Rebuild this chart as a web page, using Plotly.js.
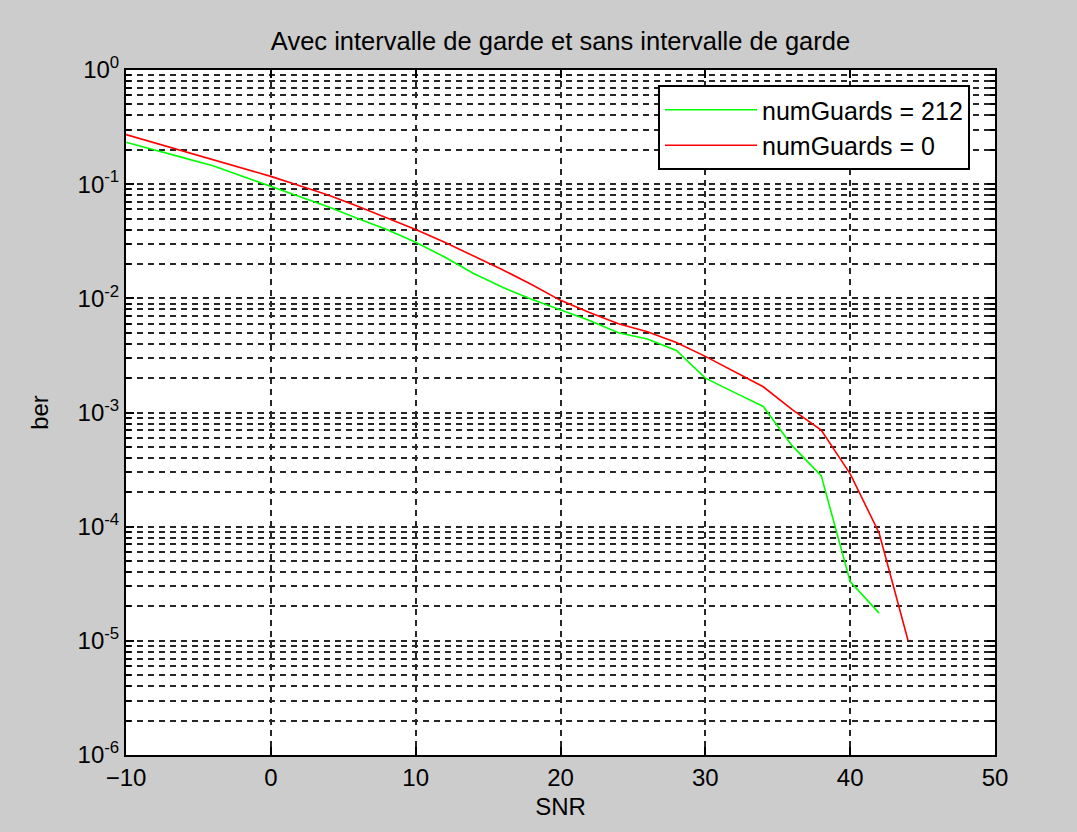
<!DOCTYPE html>
<html>
<head>
<meta charset="utf-8">
<script src="https://cdn.plot.ly/plotly-3.0.1.min.js"></script>
<style>
  html, body { margin: 0; padding: 0; background: #cccccc; }
  #chart { width: 1077px; height: 832px; }
</style>
</head>
<body>
<div id="chart"></div>
<script>
// SNR values (dB)
const snrGuard = [-10,-8,-6,-4,-2,0,2,4,6,8,10,12,14,16,18,20,22,24,26,28,30,32,34,36,38,40,42];
const berGuard = [0.233,0.200,0.170,0.145,0.118,0.096,0.078,0.063,0.050,0.040,0.031,0.023,0.0165,0.0125,0.0098,0.0079,0.0064,0.0050,0.0044,0.0035,0.0020,0.0015,0.00113,0.00051,0.00028,0.000033,0.0000175];

const snrNoGuard = [-10,-8,-6,-4,-2,0,2,4,6,8,10,12,14,16,18,20,22,24,26,28,30,32,34,36,38,40,42,44];
const berNoGuard = [0.272,0.230,0.195,0.165,0.138,0.117,0.097,0.080,0.064,0.051,0.040,0.031,0.0235,0.0178,0.0132,0.0096,0.0075,0.0060,0.0051,0.0041,0.0031,0.0023,0.00168,0.00106,0.00070,0.00029,0.000088,0.0000100];

const seriesNames = ['numGuards = 212', 'numGuards = 0'];
const yTickVals = [1e-6,1e-5,1e-4,1e-3,1e-2,1e-1,1];
const yTickText = ['10<sup>-6</sup>','10<sup>-5</sup>','10<sup>-4</sup>','10<sup>-3</sup>','10<sup>-2</sup>','10<sup>-1</sup>','10<sup>0</sup>'];
const xTickVals = [-10,0,10,20,30,40,50];

// minor log ticks (2..9 per decade)
const minorVals = [];
for (let e = -6; e < 0; e++) {
  for (let m = 2; m <= 9; m++) minorVals.push(m * Math.pow(10, e));
}

const FONT = 'Liberation Sans, Arial, sans-serif';
const GRID = '#262626';

const traces = [
  { x: snrGuard, y: berGuard, name: seriesNames[0], type: 'scatter', mode: 'lines',
    line: { color: '#00ff00', width: 1.6 } },
  { x: snrNoGuard, y: berNoGuard, name: seriesNames[1], type: 'scatter', mode: 'lines',
    line: { color: '#ff0000', width: 1.6 } }
];

const layout = {
  width: 1077, height: 832,
  paper_bgcolor: '#cccccc',
  plot_bgcolor: '#ffffff',
  margin: { l: 126, r: 82, t: 70, b: 77 },
  font: { family: FONT, color: '#000000', size: 24 },
  title: {
    text: 'Avec intervalle de garde et sans intervalle de garde',
    font: { family: FONT, size: 25.5, color: '#000000' },
    x: 0.5, xref: 'paper', xanchor: 'center',
    y: 1 - 41/832, yref: 'container', yanchor: 'middle'
  },
  xaxis: {
    range: [-10, 50],
    tickmode: 'array', tickvals: xTickVals,
    showgrid: true, gridcolor: GRID, gridwidth: 2, griddash: '6px,5px',
    zeroline: false,
    showline: true, linecolor: '#000000', linewidth: 2, mirror: 'ticks',
    ticks: 'inside', ticklen: 8, tickcolor: '#000000', tickwidth: 2,
    tickfont: { family: FONT, size: 24, color: '#000000' },
    title: { text: 'SNR', font: { family: FONT, size: 24, color: '#000000' }, standoff: 8 },
    automargin: false
  },
  yaxis: {
    type: 'log',
    range: [-6, 0],
    tickmode: 'array', tickvals: yTickVals, ticktext: yTickText,
    showgrid: true, gridcolor: GRID, gridwidth: 2, griddash: '6px,5px',
    zeroline: false,
    showline: true, linecolor: '#000000', linewidth: 2, mirror: 'ticks',
    ticks: 'inside', ticklen: 8, tickcolor: '#000000', tickwidth: 2,
    tickfont: { family: FONT, size: 24, color: '#000000' },
    minor: {
      tickmode: 'array', tickvals: minorVals,
      showgrid: true, gridcolor: GRID, gridwidth: 2, griddash: '6px,5px',
      ticks: 'inside', ticklen: 5, tickcolor: '#000000', tickwidth: 2
    },
    title: { text: 'ber', font: { family: FONT, size: 24, color: '#000000' }, standoff: 22 },
    automargin: false
  },
  showlegend: true,
  legend: {
    x: (658 - 126) / 869, xanchor: 'left',
    y: (755 - 85) / 685, yanchor: 'top',
    bgcolor: '#ffffff', bordercolor: '#000000', borderwidth: 2,
    font: { family: FONT, size: 25, color: '#000000' },
    itemwidth: 92,
    tracegroupgap: 0
  }
};

Plotly.newPlot('chart', traces, layout, { displayModeBar: false, staticPlot: true });
</script>
</body>
</html>
